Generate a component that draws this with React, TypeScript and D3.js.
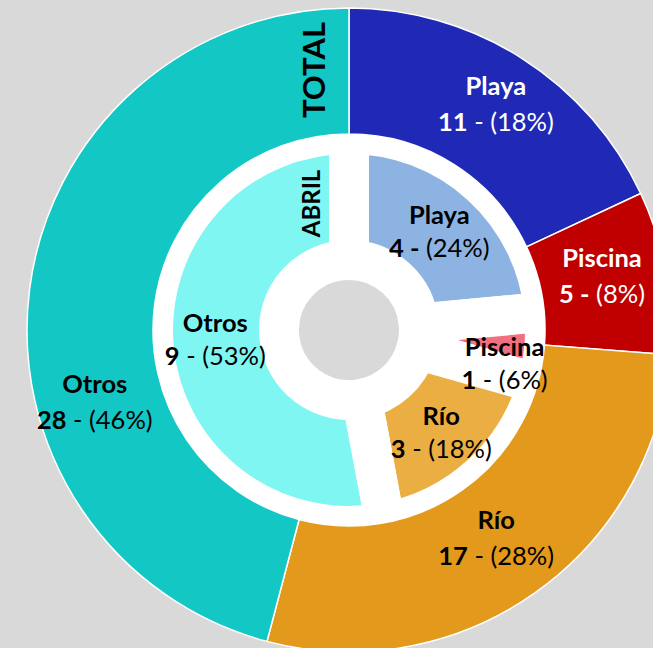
import React from "react";
import * as d3 from "d3";

const categories = ["Playa", "Piscina", "Río", "Otros"];
const totalValues = [11, 5, 17, 28];
const abrilValues = [4, 1, 3, 9];
const totalColors = ["#2029b5", "#c00000", "#e3991b", "#13c7c5"];
const abrilColors = ["#8db3e2", "#f0707f", "#ebae42", "#80f6f3"];
const totalLabelColors = ["#ffffff", "#ffffff", "#000000", "#000000"];
const abrilLabelColors = ["#000000", "#000000", "#000000", "#000000"];
const totalBoldDash = [false, true, false, false];
const abrilBoldDash = [true, false, false, false];

const W = 653;
const H = 648;
const CX = 349;
const CY = 330;
const FONT = "Lato, 'Open Sans', sans-serif";

type Nudge = { da: number; r: number };
const totalLabelPlace: Nudge[] = [
  { da: 0.5, r: 270 },
  { da: -2.0, r: 259 },
  { da: 0, r: 254 },
  { da: -23, r: 264 },
];
const abrilLabelPlace: Nudge[] = [
  { da: 0, r: 134 },
  { da: 6.6, r: 159 },
  { da: 0, r: 137 },
  { da: 1.5, r: 134 },
];

function polar(angleRad: number, r: number): [number, number] {
  return [Math.sin(angleRad) * r, -Math.cos(angleRad) * r];
}

export default function App() {
  const pie = d3.pie<number>().sort(null).value((d) => d);
  const outerArcs = pie(totalValues);
  const innerArcs = pie(abrilValues);
  const outerArc = d3.arc<d3.PieArcDatum<number>>().innerRadius(196).outerRadius(322);
  const innerArc = d3.arc<d3.PieArcDatum<number>>().innerRadius(70).outerRadius(196);
  const totalSum = d3.sum(totalValues);
  const abrilSum = d3.sum(abrilValues);

  const label = (
    a: d3.PieArcDatum<number>,
    i: number,
    sum: number,
    place: Nudge,
    color: string,
    half: number,
    boldDash: boolean,
    key: string
  ) => {
    const mid = (a.startAngle + a.endAngle) / 2 + (place.da * Math.PI) / 180;
    const [x, y] = polar(mid, place.r);
    const pct = Math.round((a.value / sum) * 100);
    return (
      <g key={key} transform={`translate(${x},${y})`} fill={color} fontFamily={FONT} fontSize={25.5} textAnchor="middle">
        <text y={-half} dominantBaseline="central" fontWeight="bold">
          {categories[i]}
        </text>
        <text y={half} dominantBaseline="central">
          <tspan fontWeight="bold">{boldDash ? `${a.value} -` : `${a.value}`}</tspan>
          <tspan>{boldDash ? ` (${pct}%)` : ` - (${pct}%)`}</tspan>
        </text>
      </g>
    );
  };

  return (
    <svg
      width={W}
      height={H}
      style={{ position: "absolute", left: 0, top: 0, display: "block" }}
    >
      <rect width={W} height={H} fill="#d9d9d9" />
      <g transform={`translate(${CX},${CY})`}>
        {innerArcs.map((a, i) => (
          <path key={"in" + i} d={innerArc(a) as string} fill={abrilColors[i]} stroke="#ffffff" strokeWidth={40} strokeLinejoin="miter" />
        ))}
        {outerArcs.map((a, i) => (
          <path key={"out" + i} d={outerArc(a) as string} fill={totalColors[i]} stroke="#ffffff" strokeWidth={1.5} />
        ))}
        {outerArcs.map((a, i) =>
          label(a, i, totalSum, totalLabelPlace[i], totalLabelColors[i], 18, totalBoldDash[i], "ol" + i)
        )}
        {innerArcs.map((a, i) =>
          label(a, i, abrilSum, abrilLabelPlace[i], abrilLabelColors[i], 16.5, abrilBoldDash[i], "il" + i)
        )}
      </g>
      <text
        transform="translate(313,70) rotate(-90)"
        textAnchor="middle"
        dominantBaseline="central"
        fontFamily={FONT}
        fontWeight="bold"
        fontSize={31}
        fill="#000"
      >
        TOTAL
      </text>
      <text
        transform="translate(310,203.5) rotate(-90)"
        textAnchor="middle"
        dominantBaseline="central"
        fontFamily={FONT}
        fontWeight="bold"
        fontSize={24}
        fill="#000"
      >
        ABRIL
      </text>
    </svg>
  );
}
